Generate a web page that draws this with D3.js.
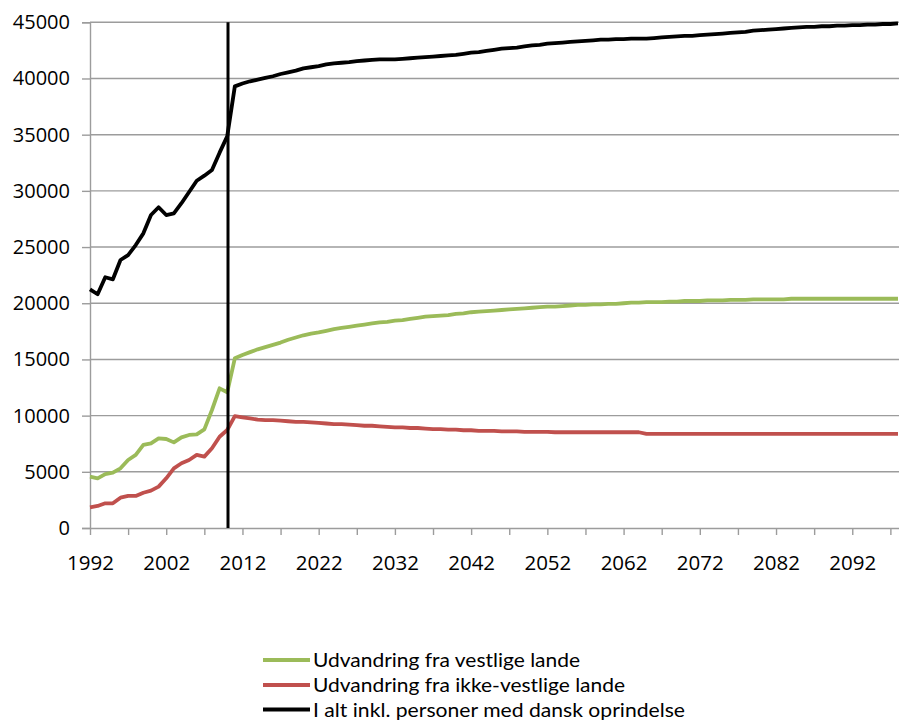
<!DOCTYPE html>
<html>
<head>
<meta charset="utf-8">
<script src="https://cdn.jsdelivr.net/npm/d3@7"></script>
<style>
  html, body { margin: 0; padding: 0; background: #fff; }
  svg { display: block; }
  text { fill: #000; }
</style>
</head>
<body>
<svg id="chart" width="899" height="722"></svg>
<script>
// ---------- DATA ----------
const startYear = 1992;
const endYear = 2098;
const years = d3.range(startYear, endYear + 1);
const xTickLabels = [1992, 2002, 2012, 2022, 2032, 2042, 2052, 2062, 2072, 2082, 2092];
const yTickValues = [0, 5000, 10000, 15000, 20000, 25000, 30000, 35000, 40000, 45000];
const markerYear = 2010;

const seriesNames = [
  "Udvandring fra vestlige lande",
  "Udvandring fra ikke-vestlige lande",
  "I alt inkl. personer med dansk oprindelse"
];
const seriesColors = ["#9BBB59", "#C0504D", "#000000"];

const vestlige = [
  4570, 4420, 4800, 4920, 5310, 6050, 6500, 7390, 7530, 7980,
  7920, 7620, 8070, 8280, 8330, 8780, 10500, 12430, 12080, 15100,
  15400, 15650, 15900, 16100, 16300, 16500, 16750, 16950, 17150, 17300,
  17400, 17550, 17700, 17800, 17900, 18000, 18100, 18200, 18300, 18350,
  18450, 18500, 18600, 18700, 18800, 18850, 18900, 18950, 19050, 19100,
  19200, 19250, 19300, 19350, 19400, 19450, 19500, 19550, 19600, 19650,
  19700, 19700, 19750, 19800, 19850, 19850, 19900, 19900, 19950, 19950,
  20000, 20050, 20050, 20100, 20100, 20100, 20150, 20150, 20200, 20200,
  20200, 20250, 20250, 20250, 20300, 20300, 20300, 20350, 20350, 20350,
  20350, 20350, 20400, 20400, 20400, 20400, 20400, 20400, 20400, 20400,
  20400, 20400, 20400, 20400, 20400, 20400, 20400
];

const ikkeVestlige = [
  1840, 1960, 2200, 2200, 2700, 2850, 2850, 3140, 3320, 3680,
  4420, 5310, 5760, 6050, 6500, 6350, 7090, 8120, 8720, 9950,
  9850, 9750, 9650, 9600, 9600, 9550, 9500, 9450, 9450, 9400,
  9350, 9300, 9250, 9250, 9200, 9150, 9100, 9100, 9050, 9000,
  8950, 8950, 8900, 8900, 8850, 8800, 8800, 8750, 8750, 8700,
  8700, 8650, 8650, 8650, 8600, 8600, 8600, 8550, 8550, 8550,
  8550, 8520, 8520, 8520, 8520, 8520, 8520, 8520, 8520, 8520,
  8520, 8520, 8520, 8380, 8380, 8380, 8380, 8380, 8380, 8380,
  8380, 8380, 8380, 8380, 8380, 8380, 8380, 8380, 8380, 8380,
  8380, 8380, 8380, 8380, 8380, 8380, 8380, 8380, 8380, 8380,
  8380, 8380, 8380, 8380, 8380, 8380, 8380
];

const iAlt = [
  21240, 20800, 22310, 22130, 23850, 24290, 25180, 26220, 27850, 28540,
  27850, 28000, 28900, 29900, 30900, 31350, 31850, 33400, 34850, 39300,
  39550, 39750, 39900, 40050, 40200, 40400, 40550, 40700, 40900, 41000,
  41100, 41250, 41350, 41400, 41450, 41550, 41600, 41650, 41700, 41700,
  41700, 41750, 41800, 41850, 41900, 41950, 42000, 42050, 42100, 42200,
  42300, 42350, 42450, 42550, 42650, 42700, 42750, 42850, 42950, 43000,
  43100, 43150, 43200, 43250, 43300, 43350, 43400, 43450, 43450, 43500,
  43500, 43550, 43550, 43550, 43600, 43650, 43700, 43750, 43800, 43800,
  43850, 43900, 43950, 44000, 44050, 44100, 44150, 44250, 44300, 44350,
  44400, 44450, 44500, 44550, 44600, 44600, 44650, 44650, 44700, 44700,
  44750, 44750, 44800, 44800, 44850, 44850, 44900
];

const seriesValues = [vestlige, ikkeVestlige, iAlt];

// ---------- LAYOUT ----------
const svg = d3.select("#chart");
const plot = { left: 90, right: 898, top: 22.3, bottom: 528 };

const x = d3.scaleLinear().domain([startYear, endYear]).range([plot.left, plot.right]);
const y = d3.scaleLinear().domain([0, 45000]).range([plot.bottom, plot.top]);

const gridColor = "#9C9C9C";
const axisFont = '"Open Sans", "Noto Sans", sans-serif';
const legendFont = 'Lato, "Open Sans", sans-serif';

// gridlines
svg.append("g")
  .selectAll("line")
  .data(yTickValues.filter(v => v > 0))
  .join("line")
  .attr("x1", plot.left).attr("x2", 899)
  .attr("y1", d => y(d)).attr("y2", d => y(d))
  .attr("stroke", gridColor).attr("stroke-width", 1.4);

// y axis
const yAxis = d3.axisLeft(y).tickValues(yTickValues).tickSize(8).tickPadding(12)
  .tickFormat(d3.format("d"));
const gy = svg.append("g").attr("transform", `translate(${plot.left},0)`).call(yAxis);
gy.select(".domain").attr("stroke", gridColor).attr("stroke-width", 1.4);
gy.selectAll(".tick line").attr("stroke", gridColor).attr("stroke-width", 1.4);
gy.selectAll(".tick text").style("font-size", "20px").style("font-family", axisFont).attr("fill", "#000");

// x axis
const xTickYears = d3.range(startYear, endYear, 5);
const xAxis = d3.axisBottom(x).tickValues(xTickYears).tickSize(7).tickPadding(20)
  .tickFormat(d => xTickLabels.includes(d) ? String(d) : "");
const gx = svg.append("g").attr("transform", `translate(0,${plot.bottom})`).call(xAxis);
gx.select(".domain").attr("stroke", gridColor).attr("stroke-width", 1.4)
  .attr("d", `M${plot.left},0.5H899`);
gx.selectAll(".tick line").attr("stroke", gridColor).attr("stroke-width", 1.4);
gx.selectAll(".tick text").style("font-size", "20.5px").style("font-family", axisFont).attr("fill", "#000");

// series lines
const line = d3.line()
  .x((d, i) => x(years[i]))
  .y(d => y(d));

seriesValues.forEach((vals, k) => {
  svg.append("path")
    .datum(vals)
    .attr("fill", "none")
    .attr("stroke", seriesColors[k])
    .attr("stroke-width", 3.8)
    .attr("stroke-linejoin", "round")
    .attr("d", line);
});

// vertical marker line
svg.append("line")
  .attr("x1", x(markerYear) + 0.8).attr("x2", x(markerYear) + 0.8)
  .attr("y1", y(45000)).attr("y2", y(0))
  .attr("stroke", "#000").attr("stroke-width", 3);

// legend
const legend = svg.append("g");
const legendY = [660, 685, 709.5];
const legendTextWidths = [267, 312, 372];
seriesNames.forEach((name, k) => {
  legend.append("line")
    .attr("x1", 263).attr("x2", 310)
    .attr("y1", legendY[k]).attr("y2", legendY[k])
    .attr("stroke", seriesColors[k]).attr("stroke-width", 4);
  legend.append("text")
    .attr("x", 313).attr("y", legendY[k])
    .attr("dy", "0.36em")
    .style("font-family", legendFont)
    .style("font-size", "20px")
    .attr("textLength", legendTextWidths[k])
    .attr("lengthAdjust", "spacingAndGlyphs")
    .text(name);
});
</script>
</body>
</html>
